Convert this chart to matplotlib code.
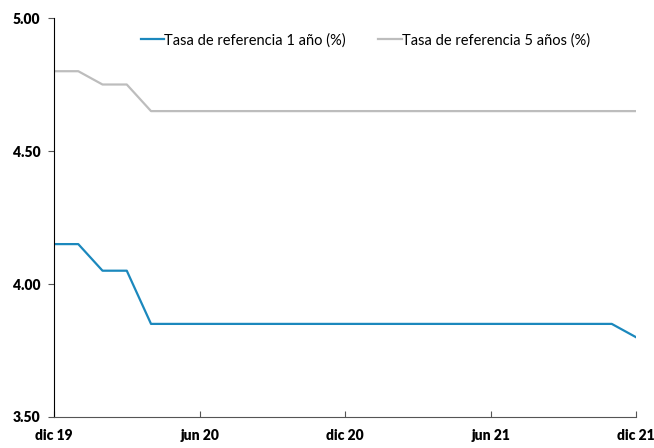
import numpy as np
import matplotlib
matplotlib.use('Agg')
import matplotlib.pyplot as plt

plt.rcParams['font.family'] = ['Lato', 'DejaVu Sans']

# monthly values, dic 19 .. dic 21
months = np.arange(25)
tasa_1 = [4.15, 4.15, 4.05, 4.05, 3.85] + [3.85] * 19 + [3.80]
tasa_5 = [4.80, 4.80, 4.75, 4.75, 4.65] + [4.65] * 20
tick_pos = [0, 6, 12, 18, 24]
tick_lab = ['dic 19', 'jun 20', 'dic 20', 'jun 21', 'dic 21']
y_ticks = [3.50, 4.00, 4.50, 5.00]

fig = plt.figure(figsize=(6.54, 4.48), dpi=100)
ax = fig.add_axes([0.0826, 0.0692, 0.8899, 0.8906])

ax.plot(months, tasa_1, color='#1B88BD', lw=1.6, label='Tasa de referencia 1 año (%)')
ax.plot(months, tasa_5, color='#BDBDBD', lw=1.6, label='Tasa de referencia 5 años (%)')

ax.set_xlim(0, 24)
ax.set_ylim(3.5, 5.0)
ax.set_xticks(tick_pos)
ax.set_xticklabels(tick_lab, fontweight='heavy', fontsize=10)
ax.set_yticks(y_ticks)
ax.set_yticklabels(['%.2f' % v for v in y_ticks], fontweight='heavy', fontsize=10)
ax.tick_params(axis='x', direction='in', length=4, pad=9, color='#555555')
ax.tick_params(axis='y', direction='out', length=4, pad=6, color='#555555')

ax.spines['top'].set_visible(False)
ax.spines['right'].set_visible(False)
ax.spines['left'].set_color('black')
ax.spines['bottom'].set_color('#555555')

ax.legend(loc='upper center', bbox_to_anchor=(0.535, 0.995), ncol=2, frameon=False,
          fontsize=10.5, handlelength=1.6, handletextpad=0.0, columnspacing=2.2)

fig.savefig('out.png', dpi=100)
